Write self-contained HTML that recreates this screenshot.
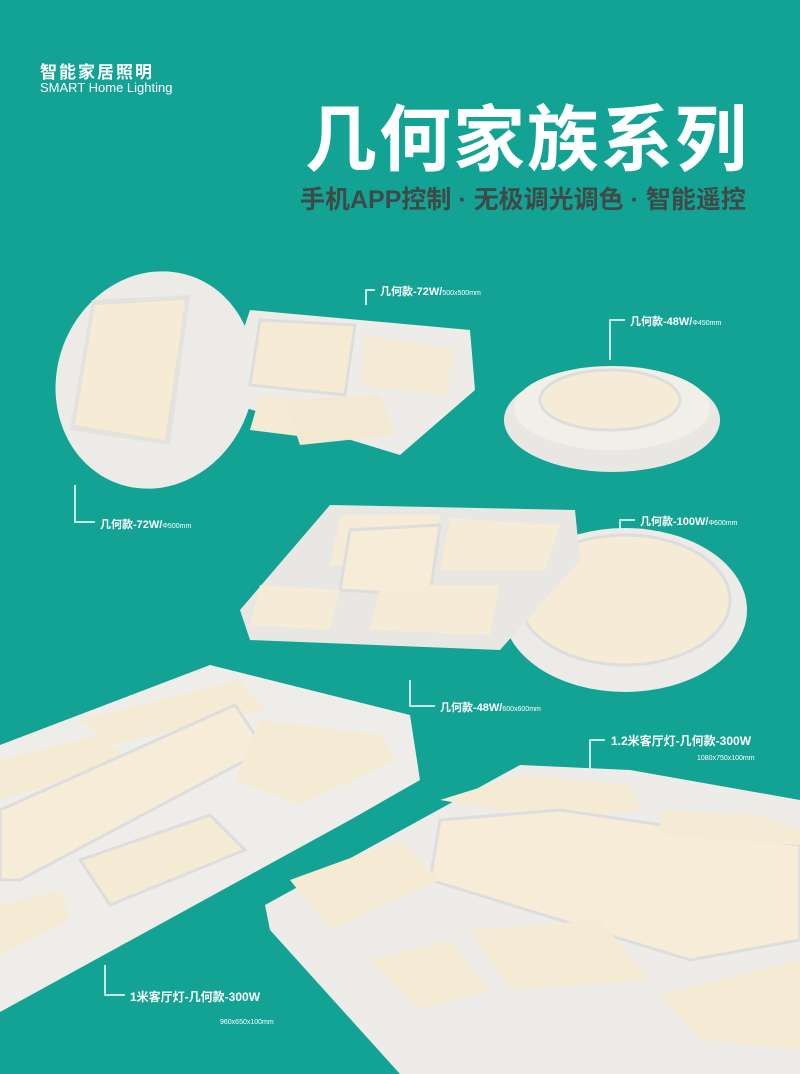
<!DOCTYPE html>
<html><head><meta charset="utf-8"><style>
body{margin:0;width:800px;height:1074px;overflow:hidden;background:#13a394;font-family:"Liberation Sans","Noto Sans CJK SC",sans-serif}
svg{position:absolute;left:0;top:0}
.t{position:absolute;color:#fff;white-space:nowrap}
</style></head><body>
<svg width="800" height="1074" viewBox="0 0 800 1074">
<g stroke="#fff" stroke-width="1.5" fill="none">
<path d="M366 305 V290 H375"/><path d="M610 360 V320 H625"/><path d="M75 485 V522 H95"/>
<path d="M620 540 V520 H635"/><path d="M410 680 V706 H435"/><path d="M590 770 V740 H605"/>
<path d="M105 965 V995 H125"/>
</g>
<!-- top-left circle lamp -->
<ellipse cx="155" cy="380" rx="98" ry="110" transform="rotate(20 155 380)" fill="#ecebe8"/>
<polygon points="92,300 190,295 170,445 70,430" fill="#e4e2dd"/>
<polygon points="95,305 185,300 165,440 75,425" fill="#f6ecd6"/>
<!-- square lamp top -->
<polygon points="250,310 470,330 475,390 400,455 220,400" fill="#eeece8"/>
<polygon points="260,320 355,325 345,395 250,385" fill="#f5ebd4" stroke="#ddd" stroke-width="3"/>
<polygon points="365,335 455,350 445,395 360,385" fill="#f5ebd4"/>
<polygon points="260,395 340,405 330,440 250,430" fill="#f5ebd4"/>
<polygon points="285,400 380,395 395,435 300,445" fill="#f3e9d2"/>
<!-- right round small -->
<ellipse cx="612" cy="420" rx="108" ry="52" fill="#e8e7e3"/>
<ellipse cx="612" cy="408" rx="98" ry="42" fill="#f2efe8"/>
<ellipse cx="610" cy="400" rx="70" ry="30" fill="#f5ebd6" stroke="#ddd" stroke-width="3"/>
<!-- middle square+circle -->
<ellipse cx="625" cy="610" rx="122" ry="82" fill="#ecebe8"/>
<ellipse cx="625" cy="600" rx="105" ry="65" fill="#f5ebd6" stroke="#ddd" stroke-width="3"/>
<polygon points="330,505 575,510 580,560 500,650 250,640 240,610" fill="#e8e7e3"/>
<polygon points="340,515 440,515 430,570 330,565" fill="#f5ebd6"/>
<polygon points="450,518 560,525 545,570 440,570" fill="#f5ebd6"/>
<polygon points="350,530 440,525 430,595 340,590" fill="#f6ecd7" stroke="#ddd" stroke-width="3"/>
<polygon points="260,585 340,590 330,630 250,625" fill="#f5ebd6"/>
<polygon points="380,585 500,585 490,635 370,630" fill="#f5ebd6"/>
<!-- bottom-left big -->
<polygon points="0,745 210,665 410,715 420,780 350,820 0,1012" fill="#eeede9"/>
<polygon points="80,720 240,680 265,710 110,745" fill="#f5ebd4"/>
<polygon points="0,760 100,735 130,760 0,800" fill="#f5ebd4"/>
<polygon points="0,810 235,705 265,750 20,880 0,880" fill="#f6ecd7" stroke="#ddd" stroke-width="3"/>
<polygon points="260,720 380,735 395,760 300,805 235,780" fill="#f5ebd4"/>
<polygon points="80,860 210,815 245,850 110,905" fill="#f5ebd4" stroke="#ddd" stroke-width="3"/>
<polygon points="0,905 60,890 70,920 0,955" fill="#f5ebd4"/>
<!-- bottom-right big -->
<polygon points="265,905 520,765 630,770 800,800 800,1074 400,1074 270,930" fill="#edece8"/>
<polygon points="440,800 520,775 630,785 640,810 560,820" fill="#f5ebd4"/>
<polygon points="440,820 560,810 800,845 800,940 690,960 430,880" fill="#f6ecd7" stroke="#ddd" stroke-width="3"/>
<polygon points="660,810 760,815 800,830 800,845 660,835" fill="#f5ebd4"/>
<polygon points="290,880 400,840 440,880 330,930" fill="#f5ebd4"/>
<polygon points="470,930 600,920 650,980 510,990" fill="#f5ebd4"/>
<polygon points="660,995 800,960 800,1050 700,1040" fill="#f5ebd4"/>
<polygon points="370,960 450,940 490,990 420,1010" fill="#f5ebd4"/>
</svg>
<div class="t" style="left:40px;top:58px;font-size:17px;font-weight:bold;letter-spacing:2px">智能家居照明</div>
<div class="t" style="left:40px;top:80px;font-size:13px">SMART Home Lighting</div>
<div class="t" style="left:305px;top:96px;font-size:72px;font-weight:bold;letter-spacing:2px;line-height:90px">几何家族系列</div>
<div class="t" style="left:300px;top:180px;font-size:25px;font-weight:bold;color:#3f4a48">手机APP控制 · 无极调光调色 · 智能遥控</div>
<div class="t" style="left:380px;top:283px;font-size:11px;font-weight:bold">几何款-72W/<span style="font-size:7px;font-weight:normal">500x500mm</span></div>
<div class="t" style="left:630px;top:313px;font-size:11px;font-weight:bold">几何款-48W/<span style="font-size:7px;font-weight:normal">Φ450mm</span></div>
<div class="t" style="left:100px;top:516px;font-size:11px;font-weight:bold">几何款-72W/<span style="font-size:7px;font-weight:normal">Φ500mm</span></div>
<div class="t" style="left:640px;top:513px;font-size:11px;font-weight:bold">几何款-100W/<span style="font-size:7px;font-weight:normal">Φ600mm</span></div>
<div class="t" style="left:440px;top:699px;font-size:11px;font-weight:bold">几何款-48W/<span style="font-size:7px;font-weight:normal">600x600mm</span></div>
<div class="t" style="left:611px;top:732px;font-size:12px;font-weight:bold">1.2米客厅灯-几何款-300W</div>
<div class="t" style="left:697px;top:755px;font-size:7px">1080x750x100mm</div>
<div class="t" style="left:130px;top:988px;font-size:12px;font-weight:bold">1米客厅灯-几何款-300W</div>
<div class="t" style="left:220px;top:1019px;font-size:7px">960x650x100mm</div>
</body></html>
